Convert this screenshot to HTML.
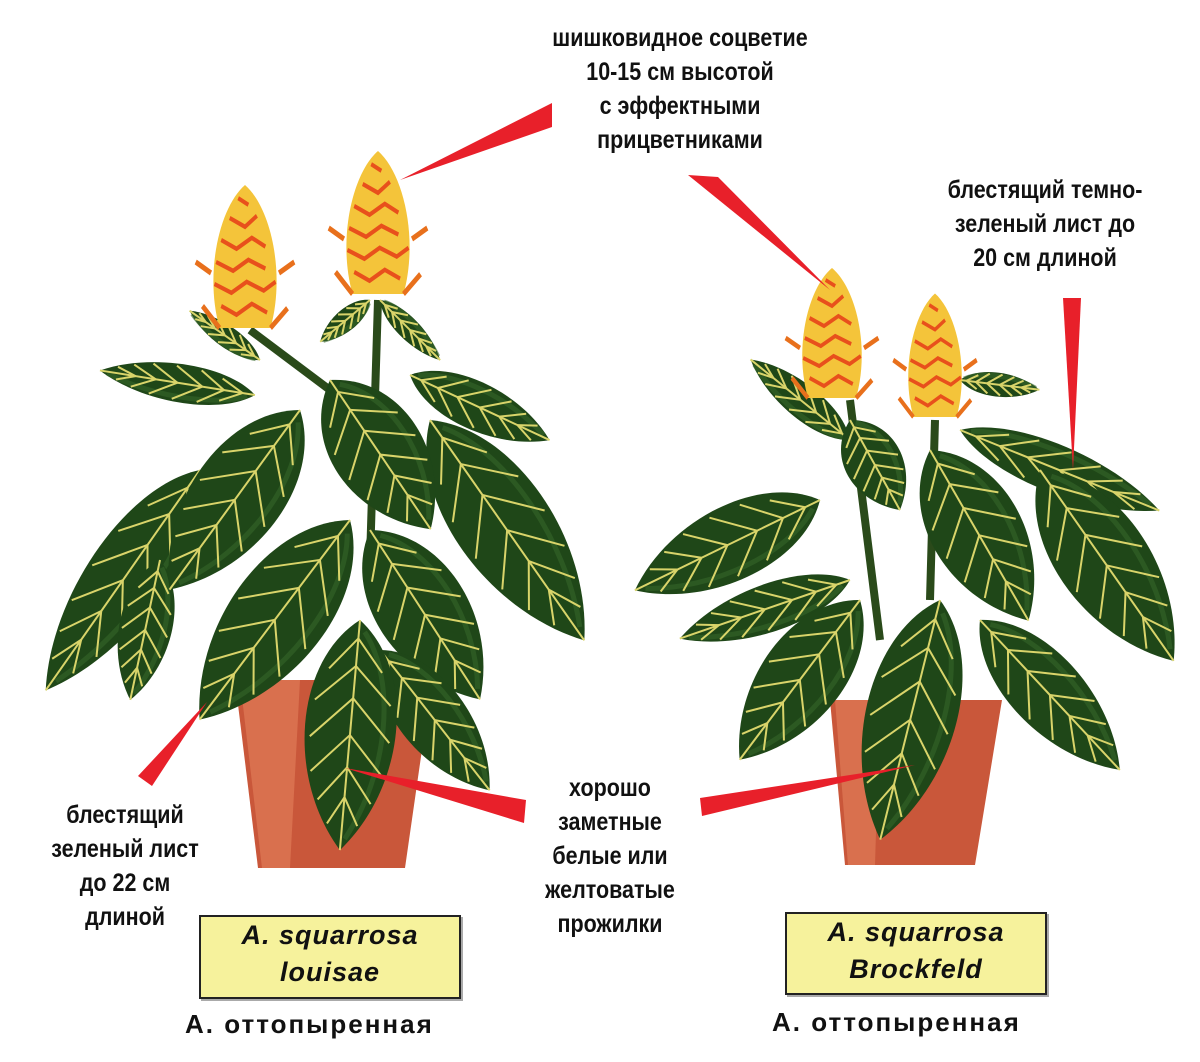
<!DOCTYPE html>
<html><head><meta charset="utf-8"><style>
html,body{margin:0;padding:0;background:#fff}
body{width:1200px;height:1062px;position:relative;overflow:hidden;font-family:"Liberation Sans Narrow","Liberation Sans",sans-serif}
.t{position:absolute;text-align:center;font-size:25px;line-height:34px;color:#111;font-weight:bold;transform:scaleX(.86);transform-origin:center}
.box{position:absolute;background:#f6f29c;border:2px solid #222;box-shadow:2px 2px 0 #aaa;text-align:center;font-family:"Liberation Sans",sans-serif;font-style:italic;font-weight:bold;font-size:27px;line-height:37px;color:#111;letter-spacing:1px}
.lab{position:absolute;font-family:"Liberation Sans",sans-serif;font-weight:bold;font-size:26px;color:#111;letter-spacing:2px}
</style></head><body>
<svg width="1200" height="1062" style="position:absolute;left:0;top:0">
<defs>
<g id="leaf">
<path d="M0,0 C20,-32 70,-32 100,0 C70,32 20,32 0,0Z" fill="#1f4718"/>
<path d="M5,-3 C25,-22 65,-22 95,-2" fill="none" stroke="#35662a" stroke-width="5" vector-effect="non-scaling-stroke" opacity=".6"/>
<g stroke="#d9d46a" stroke-width="2" fill="none">
<line x1="0" y1="0" x2="100" y2="0" vector-effect="non-scaling-stroke"/>
<path d="M8,0 L22,-14 M20,0 L36,-20 M34,0 L52,-21 M50,0 L67,-19 M64,0 L79,-14 M77,0 L89,-8 M8,0 L22,14 M20,0 L36,20 M34,0 L52,21 M50,0 L67,19 M64,0 L79,14 M77,0 L89,8" vector-effect="non-scaling-stroke"/>
</g>
</g>
<g id="flower">
<path d="M0,-70 C30,-50 48,10 30,60 L-30,60 C-48,10 -30,-50 0,-70Z" fill="#f4c43a"/>
<g stroke="#e8501c" stroke-width="4" fill="none">
<path d="M-28,40 L-10,48 L8,38 L26,46 M-36,20 L-16,28 L2,18 L22,26 L36,18 M-34,0 L-14,8 L4,-2 L24,6 M-28,-20 L-10,-12 L8,-22 L24,-14 M-18,-40 L0,-32 L14,-42 M-8,-58 L4,-52"/>
</g>
<path d="M-30,60 L-50,40 M30,60 L50,42 M-40,10 L-58,0 M40,10 L58,0" stroke="#e8701c" stroke-width="5"/>
</g>
</defs>
<path d="M235,680 L432,680 L405,868 L258,868Z" fill="#c9573a"/>
<path d="M240,680 L300,680 L290,868 L262,868Z" fill="#d9704e"/>
<path d="M830,700 L1002,700 L975,865 L845,865Z" fill="#c9573a"/>
<path d="M835,700 L880,700 L875,865 L848,865Z" fill="#d9704e"/>
<path d="M370,560 L378,300 M370,420 L250,330" stroke="#2a4a1a" stroke-width="8" fill="none"/>
<path d="M880,640 L850,400 M930,600 L935,420" stroke="#2a4a1a" stroke-width="8" fill="none"/>
<use href="#leaf" transform="translate(200,470) rotate(125) scale(2.69,1.6)"/>
<use href="#leaf" transform="translate(160,560) rotate(102) scale(1.43,1.1)"/>
<use href="#leaf" transform="translate(255,395) rotate(189) scale(1.57,0.8)"/>
<use href="#leaf" transform="translate(260,360) rotate(215) scale(0.86,0.45)"/>
<use href="#leaf" transform="translate(380,300) rotate(45) scale(0.85,0.45)"/>
<use href="#leaf" transform="translate(370,300) rotate(140) scale(0.65,0.45)"/>
<use href="#leaf" transform="translate(410,375) rotate(25) scale(1.54,1.0)"/>
<use href="#leaf" transform="translate(430,420) rotate(55) scale(2.69,2.0)"/>
<use href="#leaf" transform="translate(300,410) rotate(126) scale(2.22,1.9)"/>
<use href="#leaf" transform="translate(330,380) rotate(56) scale(1.8,1.9)"/>
<use href="#leaf" transform="translate(350,520) rotate(127) scale(2.5,2.0)"/>
<use href="#leaf" transform="translate(370,530) rotate(57) scale(2.02,1.9)"/>
<use href="#leaf" transform="translate(380,650) rotate(52) scale(1.78,1.4)"/>
<use href="#leaf" transform="translate(360,620) rotate(95) scale(2.31,1.9)"/>
<use href="#leaf" transform="translate(850,440) rotate(219) scale(1.28,0.7)"/>
<use href="#leaf" transform="translate(960,380) rotate(7) scale(0.8,0.5)"/>
<use href="#leaf" transform="translate(820,500) rotate(154) scale(2.06,1.55)"/>
<use href="#leaf" transform="translate(850,580) rotate(161) scale(1.8,1.0)"/>
<use href="#leaf" transform="translate(960,430) rotate(22) scale(2.15,1.0)"/>
<use href="#leaf" transform="translate(1040,470) rotate(55) scale(2.33,1.9)"/>
<use href="#leaf" transform="translate(850,420) rotate(61) scale(1.03,1.2)"/>
<use href="#leaf" transform="translate(930,450) rotate(60) scale(1.97,1.9)"/>
<use href="#leaf" transform="translate(980,620) rotate(47) scale(2.05,1.5)"/>
<use href="#leaf" transform="translate(860,600) rotate(127) scale(2.0,1.7)"/>
<use href="#leaf" transform="translate(940,600) rotate(104) scale(2.47,1.9)"/>
<use href="#flower" transform="translate(245,262) scale(0.85,1.1)"/>
<use href="#flower" transform="translate(378,228) scale(0.85,1.1)"/>
<use href="#flower" transform="translate(832,338) scale(0.8,1.0)"/>
<use href="#flower" transform="translate(935,360) scale(0.72,0.95)"/>
<g fill="#e8202a">
<polygon points="400,180 552,103 552,127"/>
<polygon points="830,290 688,175 718,177"/>
<polygon points="1073,470 1063,298 1081,298"/>
<polygon points="138,776 152,786 207,702"/>
<polygon points="345,768 526,800 524,823"/>
<polygon points="700,798 702,816 915,765"/>
</g>
</svg>
<div class="t" style="left:480px;top:21px;width:400px">шишковидное соцветие<br>10-15 см высотой<br>с эффектными<br>прицветниками</div>
<div class="t" style="left:895px;top:173px;width:300px">блестящий темно-<br>зеленый лист до<br>20 см длиной</div>
<div class="t" style="left:10px;top:798px;width:230px">блестящий<br>зеленый лист<br>до 22 см<br>длиной</div>
<div class="t" style="left:500px;top:771px;width:220px">хорошо<br>заметные<br>белые или<br>желтоватые<br>прожилки</div>
<div class="box" style="left:199px;top:915px;width:258px;height:80px">A. squarrosa<br>louisae</div>
<div class="box" style="left:785px;top:912px;width:258px;height:79px">A. squarrosa<br>Brockfeld</div>
<div class="lab" style="left:185px;top:1009px">А. оттопыренная</div>
<div class="lab" style="left:772px;top:1007px">А. оттопыренная</div>
</body></html>
